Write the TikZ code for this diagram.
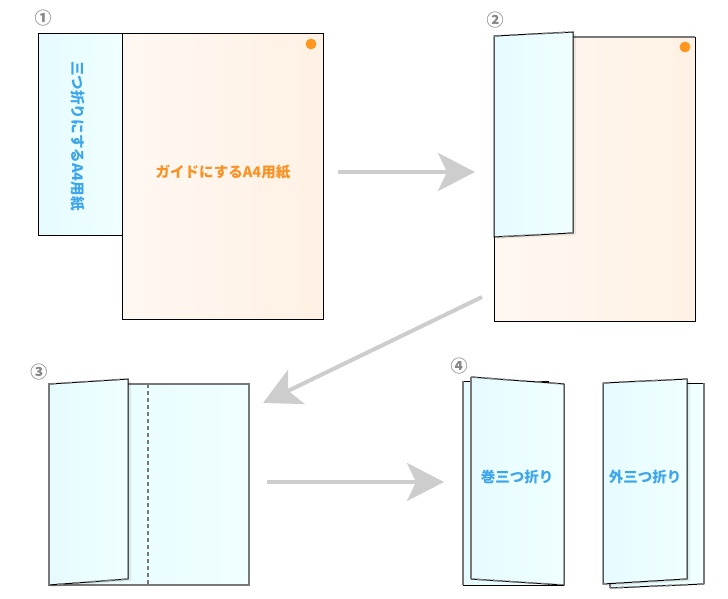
\documentclass[tikz,border=0pt]{standalone}
\usepackage{fontspec}
\newfontfamily\cjk{Noto Sans CJK JP}
\usetikzlibrary{arrows.meta}

\definecolor{blueL}{RGB}{230,251,255}
\definecolor{blueR}{RGB}{240,255,255}
\definecolor{orangeL}{RGB}{255,248,242}
\definecolor{orangeR}{RGB}{255,241,228}
\definecolor{dotorange}{RGB}{255,150,30}
\definecolor{textblue}{RGB}{60,165,235}
\definecolor{textorange}{RGB}{250,145,35}
\definecolor{edgegray}{RGB}{120,120,120}
\definecolor{arrowgray}{RGB}{205,205,205}
\definecolor{numgray}{RGB}{135,135,135}

\begin{document}
\begin{tikzpicture}[x=1pt,y=-1pt,
  sheet/.style={left color=blueL, right color=blueR},
  guide/.style={left color=orangeL, right color=orangeR},
  edge/.style={black, line width=1pt},
  grayedge/.style={edgegray, line width=1.5pt},
  foldmark/.style={edgegray, line width=1.6pt, dash pattern=on 7pt off 9pt},
  shadow/.style={fill=black, opacity=0.07},
  flowarrow/.style={arrowgray, line width=4pt, -{Stealth[length=37pt,width=38pt,inset=9pt]}},
  stepnum/.style={text=numgray, font=\cjk\bfseries\fontsize{17}{17}\selectfont},
  bluelabel/.style={text=textblue, font=\cjk\bfseries\fontsize{14.5}{14.5}\selectfont}]
\useasboundingbox (0,0) rectangle (728,599);

% step 1
\node[stepnum] (num1) at (43,18) {①};
\draw[sheet, edge] (38,34) rectangle (123,235);
\draw[guide, edge] (122,34) rectangle (323,319);
\fill[dotorange] (311,44) circle (5.4pt);
\node[bluelabel, rotate=-90] (trilabel) at (78,136) {三つ折りにするA4用紙};
\node[text=textorange, font=\cjk\bfseries\fontsize{14.5}{14.5}\selectfont] (guidelabel) at (223,172) {ガイドにするA4用紙};

% step 2
\node[stepnum] (num2) at (495,20) {②};
\path[guide] (494,37) rectangle (695,321);
\draw[edge] (494,37) -- (494,321) -- (695,321) -- (695,37);
\draw[grayedge] (494,37) -- (695,37);
\fill[dotorange] (685,47) circle (5.4pt);
\fill[shadow, shift={(3,2)}] (494,36) -- (573,32) -- (573,233) -- (494,237) -- cycle;
\path[sheet] (494,36) -- (573,32) -- (573,233) -- (494,237) -- cycle;
\draw[edge] (494,36) -- (573,32) -- (573,233) -- (494,237) -- cycle;
\draw[foldmark] (494,36) -- (573,32) (573,233) -- (494,237);

% step 3
\node[stepnum] (num3) at (39,372) {③};
\path[sheet] (49,384) rectangle (249,585);
\draw[grayedge] (49,384) rectangle (249,585);
\draw[edgegray, line width=1.2pt, dash pattern=on 4pt off 3pt] (148,384) -- (148,585);
\fill[shadow, shift={(3,2)}] (49,384) -- (128,379) -- (128,579) -- (49,585) -- cycle;
\path[sheet] (49,384) -- (128,379) -- (128,579) -- (49,585) -- cycle;
\draw[edge] (49,384) -- (128,379) -- (128,579) -- (49,585);
\draw[foldmark] (49,384) -- (128,379) (128,579) -- (49,585);
\draw[grayedge] (49,384) -- (49,585);

% step 4
\node[stepnum] (num4) at (459,366) {④};
\path[sheet] (463,381) rectangle (548,585);
\draw[edge] (463,381) -- (548,381) -- (548,585);
\draw[grayedge] (463,381) -- (463,585);
\path[sheet] (471,377) -- (564,384) -- (564,585) -- (471,579) -- cycle;
\draw[edge] (471,377) -- (564,384) -- (564,585) -- (471,579);
\draw[foldmark] (471,377) -- (564,384) (564,585) -- (471,579);
\draw[grayedge] (471,377) -- (471,579);
\draw[edge] (463,585) -- (564,585);
\node[bluelabel] (rolllabel) at (517,477) {巻三つ折り};

\path[sheet] (610,383) -- (704,383) -- (704,584) -- (610,588) -- cycle;
\draw[edge] (687,383) -- (704,383);
\draw[grayedge] (704,383) -- (704,584);
\draw[edge] (704,584) -- (610,588);
\draw[foldmark] (704,584) -- (610,588);
\draw[grayedge] (610,588) -- (610,583);
\fill[shadow, shift={(3,2)}] (603,383) -- (687,379) -- (687,579) -- (603,584) -- cycle;
\path[sheet] (603,383) -- (687,379) -- (687,579) -- (603,584) -- cycle;
\draw[edge] (603,383) -- (687,379) -- (687,579) -- (603,584) -- cycle;
\draw[foldmark] (603,383) -- (687,379) (687,579) -- (603,584);
\node[bluelabel] (zlabel) at (645,477) {外三つ折り};

% arrows
\coordinate (a1s) at (338,172);
\coordinate (a1e) at (475,172);
\coordinate (a2s) at (482,297);
\coordinate (a2e) at (263,403);
\coordinate (a3s) at (267,482);
\coordinate (a3e) at (444,482);
\draw[flowarrow] (a1s) -- (a1e);
\draw[flowarrow] (a2s) -- (a2e);
\draw[flowarrow] (a3s) -- (a3e);

\end{tikzpicture}
\end{document}
